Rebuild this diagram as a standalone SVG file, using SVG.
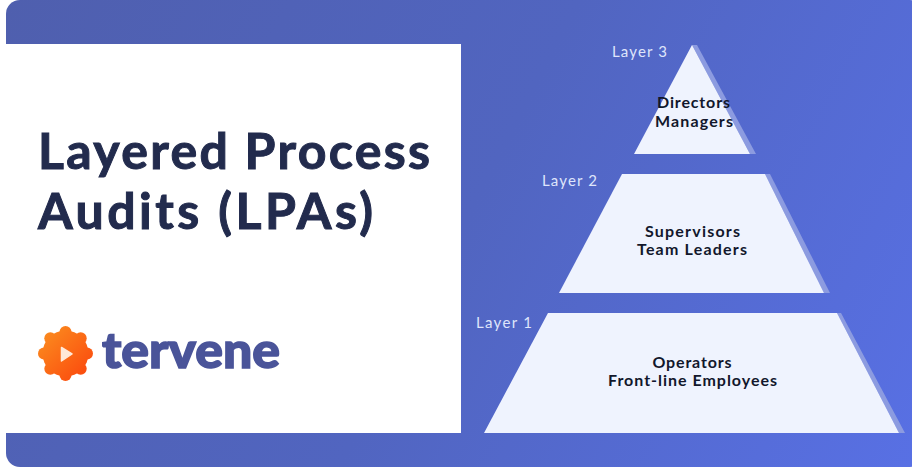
<svg xmlns="http://www.w3.org/2000/svg" width="912" height="467" viewBox="0 0 912 467">
<defs>
<linearGradient id="bg" gradientUnits="userSpaceOnUse" x1="6" y1="0" x2="912" y2="467"><stop offset="0" stop-color="#4f5fae"/><stop offset="0.5" stop-color="#5165c0"/><stop offset="1" stop-color="#5870e4"/></linearGradient>
<linearGradient id="gear" gradientUnits="userSpaceOnUse" x1="44" y1="332" x2="87" y2="376"><stop offset="0" stop-color="#fb8a1e"/><stop offset="1" stop-color="#fb4a0e"/></linearGradient>
</defs>
<style>
.lbl{font-family:Lato,"Open Sans",sans-serif;font-size:16px;font-weight:700;fill:#12172c;text-anchor:middle}
.lay{font-family:Lato,"Open Sans",sans-serif;font-size:15px;fill:#dfe5fb}
.title{font-family:Lato,"Open Sans",sans-serif;font-size:50px;font-weight:700;fill:#222b4d;stroke:#222b4d;stroke-width:1}
.tier{fill:#eff3fe}
.shade{fill:#8c9be0}
.lobe{fill:url(#gear)}
</style>
<rect width="912" height="467" fill="#ffffff"/>
<rect id="background" x="6" y="0" width="918" height="467" rx="14" fill="url(#bg)"/>
<rect id="panel" x="0" y="44" width="461" height="389" fill="#ffffff"/>
<g id="title"><text class="title" x="38" y="169" textLength="392">Layered Process</text><text class="title" x="38" y="229" textLength="335">Audits (LPAs)</text></g>
<g id="logo">
<circle class="lobe" cx="65.500" cy="353.500" r="23"/>
<circle class="lobe" cx="65.500" cy="332" r="6"/><circle class="lobe" cx="65.500" cy="375" r="6"/>
<circle class="lobe" cx="44" cy="353.500" r="6"/><circle class="lobe" cx="87" cy="353.500" r="6"/>
<circle class="lobe" cx="50.300" cy="338.300" r="6"/><circle class="lobe" cx="80.700" cy="338.300" r="6"/>
<circle class="lobe" cx="50.300" cy="368.700" r="6"/><circle class="lobe" cx="80.700" cy="368.700" r="6"/>
<path d="M61.500 347.500 L72 354 L61.500 361 Z" fill="#ffe9d8" stroke="#ffe9d8" stroke-width="1.500" stroke-linejoin="round"/>
<text x="102" y="367.500" font-family="Lato,'Open Sans',sans-serif" font-size="50" font-weight="900" fill="#4a5499" stroke="#4a5499" stroke-width="1.500" textLength="178" lengthAdjust="spacingAndGlyphs">tervene</text>
</g>
<g id="layer3">
<polygon class="shade" points="697,45 756,154 750,154 692,45"/>
<polygon class="tier" points="692,45 750,154 634,154"/>
<text class="lbl" x="693.500" y="108" textLength="73">Directors</text><text class="lbl" x="694" y="127" textLength="78">Managers</text>
<text class="lay" x="612" y="57" textLength="55">Layer 3</text>
</g>
<g id="layer2">
<polygon class="shade" points="765,174 770,174 830,293 824,293"/>
<polygon class="tier" points="622,174 765,174 824,293 559,293"/>
<text class="lbl" x="692.500" y="237" textLength="95">Supervisors</text><text class="lbl" x="692" y="255" textLength="110">Team Leaders</text>
<text class="lay" x="542" y="186" textLength="55">Layer 2</text>
</g>
<g id="layer1">
<polygon class="shade" points="837,313 841,313 905,433 899,433"/>
<polygon class="tier" points="548,313 837,313 899,433 484,433"/>
<text class="lbl" x="692" y="368" textLength="79">Operators</text><text class="lbl" x="692.500" y="385.500" textLength="169">Front-line Employees</text>
<text class="lay" x="476" y="328" textLength="56">Layer 1</text>
</g>
<g id="connectors"/>
</svg>
